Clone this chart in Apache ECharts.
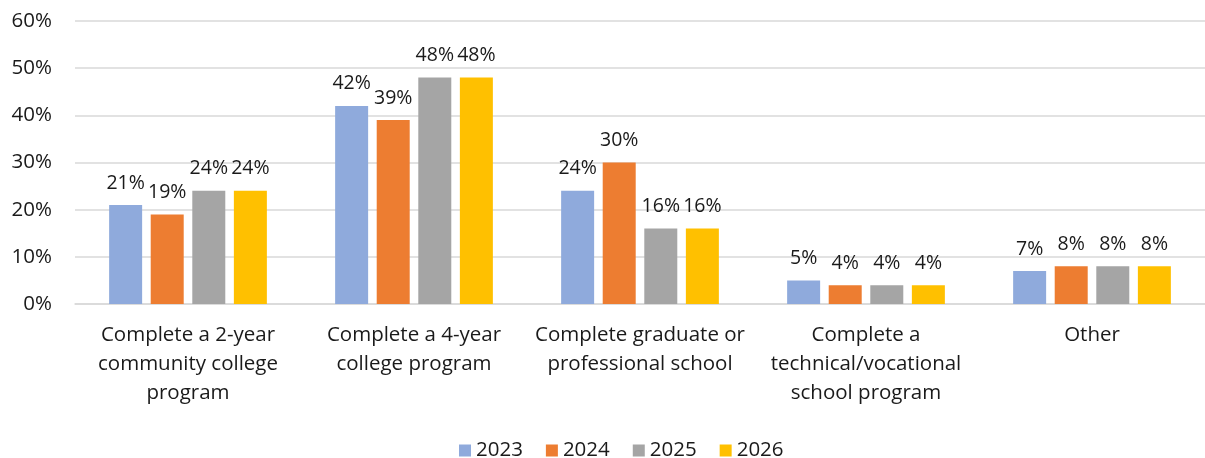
<!DOCTYPE html>
<html><head><meta charset="utf-8">
<script src="https://cdn.jsdelivr.net/npm/echarts@6/dist/echarts.min.js"></script>
<style>html,body{margin:0;padding:0;background:#fff}#c{width:1205px;height:458px}</style>
</head><body><div id="c"></div>
<script>
const categories = ["Complete a 2-year\ncommunity college\nprogram","Complete a 4-year\ncollege program","Complete graduate or\nprofessional school","Complete a\ntechnical/vocational\nschool program","Other"];
const years = ["2023","2024","2025","2026"];
const v2023 = [21,42,24,5,7];
const v2024 = [19,39,30,4,8];
const v2025 = [24,48,16,4,8];
const v2026 = [24,48,16,4,8];
const colors = ["#8FAADC","#ED7D31","#A5A5A5","#FFC000"];
const values = [v2023,v2024,v2025,v2026];
const font = "Open Sans";
const txt = '#1a1a1a';
const chart = echarts.init(document.getElementById('c'));
chart.setOption({
  animation:false,
  textStyle:{fontFamily:font},
  grid:{left:75,right:-10,top:21,bottom:154,containLabel:false},
  legend:{left:454,top:435,itemWidth:12,itemHeight:12,itemGap:23,icon:'rect',
    textStyle:{fontSize:20.5,color:txt,fontFamily:font},data:years},
  xAxis:{type:'category',data:categories,
    axisLine:{lineStyle:{color:'#d9d9d9',width:1.5}},axisTick:{show:false},
    axisLabel:{fontSize:20.5,color:txt,lineHeight:29,margin:17,interval:0,fontFamily:font}},
  yAxis:{type:'value',min:0,max:60,interval:10,
    axisLabel:{formatter:'{value}%',fontSize:20.5,color:txt,margin:23,fontFamily:font},
    splitLine:{lineStyle:{color:'#d9d9d9',width:1.5}},axisLine:{show:false},axisTick:{show:false}},
  series: years.map((y,i)=>({name:y,type:'bar',data:values[i],barWidth:33,barGap:'26%',
    itemStyle:{color:colors[i]},
    label:{show:true,position:'top',distance:12,formatter:'{c}%',fontSize:19.5,color:txt,fontFamily:font}}))
});
</script></body></html>
